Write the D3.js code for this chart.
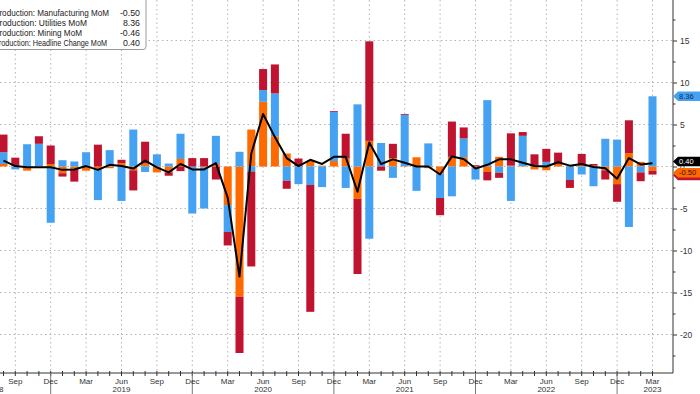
<!DOCTYPE html>
<html>
<head>
<meta charset="utf-8">
<script src="https://cdn.jsdelivr.net/npm/d3@7"></script>
<style>
body { margin: 0; background: #fff; }
svg { display: block; font-family: "Liberation Sans", Arial, sans-serif; }
</style>
</head>
<body>
<div id="chart"></div>
<script>
const months = [
  "2018-08","2018-09","2018-10","2018-11","2018-12",
  "2019-01","2019-02","2019-03","2019-04","2019-05","2019-06","2019-07","2019-08","2019-09","2019-10","2019-11","2019-12",
  "2020-01","2020-02","2020-03","2020-04","2020-05","2020-06","2020-07","2020-08","2020-09","2020-10","2020-11","2020-12",
  "2021-01","2021-02","2021-03","2021-04","2021-05","2021-06","2021-07","2021-08","2021-09","2021-10","2021-11","2021-12",
  "2022-01","2022-02","2022-03","2022-04","2022-05","2022-06","2022-07","2022-08","2022-09","2022-10","2022-11","2022-12",
  "2023-01","2023-02","2023-03"
]

const manufacturing = [0.3, 0.1, -0.5, 0.05, 0.3, -0.8, -0.3, -0.5, -0.3, -0.2,
  0.4, -0.45, 0.35, -0.7, -0.7, 0.9, 0.0, -0.1, 0.3, -4.6,
  -15.5, 4.4, 7.7, 3.6, 1.55, 0.05, 0.65, 0.1, 0.65, 0.95,
  -3.85, 3.05, 0.0, 1.0, 0.05, 1.1, -0.2, -0.85, 1.15, 1.1,
  -0.1, -0.65, 1.15, 0.1, 0.05, -0.35, -0.45, 0.35, 0.05, 0.3,
  0.1, -0.45, -2.1, 1.6, 0.55, -0.50]

const utilities = [1.4, -0.35, 2.65, 2.65, -6.7, 0.75, 0.6, 1.7, -3.7, 1.95,
  -4.1, 4.4, -0.65, 1.45, 0.35, 3.0, -5.6, -4.9, 3.35, -3.2,
  1.75, -0.6, 1.4, 5.1, -1.7, -2.1, -2.2, -2.45, 5.85, -2.55,
  7.4, -8.6, 2.8, -1.35, 6.1, -2.9, 2.75, -2.9, -3.55, 2.25,
  -1.45, 7.9, -0.75, -4.1, 3.6, 0.15, 0.55, 0.0, -1.6, -0.95,
  -2.35, 3.3, 3.2, -7.2, -0.7, 8.36]

const mining = [2.1, 0.95, 0.0, 0.9, 2.2, -0.4, -1.5, 0.0, 2.6, 0.0,
  0.4, -2.4, 2.6, 0.0, -0.4, -0.55, 1.0, 1.0, -1.55, -1.6,
  -6.7, -11.3, 2.5, 3.45, -0.95, 0.9, -15.1, 0.0, 0.1, 2.95,
  -8.95, 11.85, -0.5, 1.7, 0.1, 0.0, 0.0, -2.05, 4.2, 1.3,
  0.15, -1.0, -0.6, 3.85, 0.45, 1.3, 1.55, 1.3, -0.95, 1.2,
  0.2, -1.1, -2.1, 3.9, -1.05, -0.46]

const headline = [0.7, 0.05, -0.1, -0.1, -0.1, -0.4, -0.35, 0.05, -0.4, 0.2,
  0.05, -0.25, 0.7, -0.1, -0.7, 0.3, -0.35, -0.35, 0.4, -3.7,
  -13.1, 1.55, 6.25, 3.5, 1.0, 0.05, 0.8, 0.3, 1.15, 1.15,
  -3.0, 2.85, 0.3, 0.85, 0.45, 0.0, 0.0, -0.95, 1.2, 0.9,
  -0.25, 0.2, 0.85, 0.85, 0.45, 0.05, 0.0, 0.5, 0.1, 0.3,
  -0.05, -0.2, -1.45, 1.0, 0.25, 0.40]

const seriesNames = ["Production: Manufacturing MoM", "Production: Utilities MoM",
  "Production: Mining MoM", "Production: Headline Change MoM"]

const tickMonths = ["2018-09","2018-12","2019-03","2019-06","2019-09","2019-12","2020-03","2020-06",
  "2020-09","2020-12","2021-03","2021-06","2021-09","2021-12","2022-03","2022-06","2022-09","2022-12","2023-03"]
const monthNames = {"03": "Mar", "06": "Jun", "09": "Sep", "12": "Dec"}

const yearLabels = ["2018", "2019", "2020", "2021", "2022", "2023"]
const yearAnchors = ["2018-08", "2019-06", "2020-06", "2021-06", "2022-06", "2023-03"]

const yTicks = [-20, -15, -10, -5, 0, 5, 10, 15]
const yMinor = [-22.5, -17.5, -12.5, -7.5, -2.5, 2.5, 7.5, 12.5, 17.5]

const colors = {mfg: "#ff6a00", util: "#45a2f2", mining: "#c0132f"}

const width = 700, height = 394
const plotRight = 673, axisY = 373

const svg = d3.select("#chart").append("svg")
  .attr("width", width).attr("height", height)

const x = d3.scaleBand()
  .domain(months)
  .range([-2.4, 658.4])
  .paddingInner(0.32)
  .paddingOuter(0.16)
const cx = m => x(m) + x.bandwidth() / 2

const y = d3.scaleLinear()
  .domain([-20, 15])
  .range([334.5, 40.5])

// grid
svg.append("g").selectAll("line")
  .data(yTicks)
  .join("line")
  .attr("x1", 0).attr("x2", plotRight)
  .attr("y1", d => y(d)).attr("y2", d => y(d))
  .attr("stroke", "#b4b4b4").attr("stroke-dasharray", "1.5,3")

svg.append("g").selectAll("line")
  .data(tickMonths)
  .join("line")
  .attr("x1", d => cx(d)).attr("x2", d => cx(d))
  .attr("y1", 0).attr("y2", axisY)
  .attr("stroke", "#b4b4b4").attr("stroke-dasharray", "1.5,3")

// stacked bars
const rows = months.map((m, i) => ({month: m, mfg: manufacturing[i], util: utilities[i], mining: mining[i]}))
const stacked = d3.stack()
  .keys(["mfg", "util", "mining"])
  .offset(d3.stackOffsetDiverging)(rows)

svg.append("g").selectAll("g")
  .data(stacked)
  .join("g")
  .attr("fill", s => colors[s.key])
  .selectAll("rect")
  .data(s => s)
  .join("rect")
  .attr("x", d => x(d.data.month))
  .attr("y", d => y(d[1]))
  .attr("width", x.bandwidth())
  .attr("height", d => Math.max(0, y(d[0]) - y(d[1])))

// headline line
const line = d3.line()
  .x((d, i) => cx(months[i]))
  .y(d => y(d))

svg.append("path")
  .datum(headline)
  .attr("d", line)
  .attr("fill", "none")
  .attr("stroke", "#000")
  .attr("stroke-width", 2)
  .attr("stroke-linejoin", "round")

// right axis
svg.append("line")
  .attr("x1", plotRight).attr("x2", plotRight)
  .attr("y1", 0).attr("y2", axisY)
  .attr("stroke", "#333")

const yAxis = d3.axisRight(y).tickValues(yTicks).tickSize(4).tickPadding(3).tickFormat(d => String(d))
const gy = svg.append("g")
  .attr("transform", `translate(${plotRight},0)`)
  .call(yAxis)
gy.select(".domain").remove()
gy.selectAll("text").attr("font-size", 8.5).attr("fill", "#333").attr("font-family", "Liberation Sans, Arial, sans-serif")
gy.selectAll("line").attr("stroke", "#333")

const gyMinor = svg.append("g")
  .attr("transform", `translate(${plotRight},0)`)
  .call(d3.axisRight(y).tickValues(yMinor).tickSize(2.5).tickFormat(""))
gyMinor.select(".domain").remove()
gyMinor.selectAll("line").attr("stroke", "#333")

// bottom axis
svg.append("line")
  .attr("x1", 0).attr("x2", plotRight)
  .attr("y1", axisY).attr("y2", axisY)
  .attr("stroke", "#333")

svg.append("g").selectAll("line")
  .data(months)
  .join("line")
  .attr("x1", d => cx(d)).attr("x2", d => cx(d))
  .attr("y1", axisY - 2).attr("y2", axisY + 3)
  .attr("stroke", "#333")

svg.append("g").selectAll("line")
  .data(months.filter(m => m.endsWith("-12")))
  .join("line")
  .attr("x1", d => cx(d)).attr("x2", d => cx(d))
  .attr("y1", axisY).attr("y2", height)
  .attr("stroke", "#777")

svg.append("g").selectAll("text")
  .data(tickMonths)
  .join("text")
  .attr("x", d => cx(d))
  .attr("y", 384)
  .attr("text-anchor", "middle")
  .attr("font-size", 8)
  .attr("fill", "#333")
  .text(d => monthNames[d.slice(5)])

svg.append("g").selectAll("text")
  .data(yearLabels)
  .join("text")
  .attr("x", (d, i) => cx(yearAnchors[i]))
  .attr("y", 392)
  .attr("text-anchor", (d, i) => i === 0 ? "end" : "middle")
  .attr("font-size", 8)
  .attr("fill", "#333")
  .text(d => d)

// value tags on the right (mining tag sits behind the manufacturing one)
const last = months.length - 1
const tags = [
  {v: mining[last], nudge: 5, fill: colors.mining, text: null},
  {v: utilities[last], nudge: 0, fill: colors.util, text: "#0b2a55"},
  {v: manufacturing[last], nudge: 2, fill: colors.mfg, text: "#3a1000"},
  {v: headline[last], nudge: -1.6, fill: "#000", text: "#fff"}
]
const tagG = svg.append("g")
tags.forEach(t => {
  const c = y(t.v) + t.nudge
  tagG.append("path")
    .attr("d", `M${plotRight},${c} L${plotRight + 5},${c - 4.8} L${width},${c - 4.8} L${width},${c + 4.8} L${plotRight + 5},${c + 4.8} Z`)
    .attr("fill", t.fill)
  if (t.text) {
    tagG.append("text")
      .attr("x", plotRight + 6)
      .attr("y", c + 2.7)
      .attr("font-size", 7.5)
      .attr("fill", t.text)
      .text(t.v.toFixed(2))
  }
})

// legend (left part is cut off by the frame, as in the original)
const legendValues = [manufacturing[last], utilities[last], mining[last], headline[last]]
const legendLengths = [115, 93, 88, 113]
const legend = svg.append("g")
legend.append("rect")
  .attr("x", -10).attr("y", -5)
  .attr("width", 156).attr("height", 54.5)
  .attr("rx", 3)
  .attr("fill", "#fff")
  .attr("stroke", "#999")

seriesNames.forEach((name, i) => {
  legend.append("text")
    .attr("x", -6)
    .attr("y", 15.5 + i * 10.2)
    .attr("font-size", 8.8)
    .attr("fill", "#222")
    .attr("textLength", legendLengths[i])
    .attr("lengthAdjust", "spacingAndGlyphs")
    .text(name)
  legend.append("text")
    .attr("x", 140)
    .attr("y", 15.5 + i * 10.2)
    .attr("text-anchor", "end")
    .attr("font-size", 8.8)
    .attr("fill", "#222")
    .text(legendValues[i].toFixed(2))
})
</script>
</body>
</html>
